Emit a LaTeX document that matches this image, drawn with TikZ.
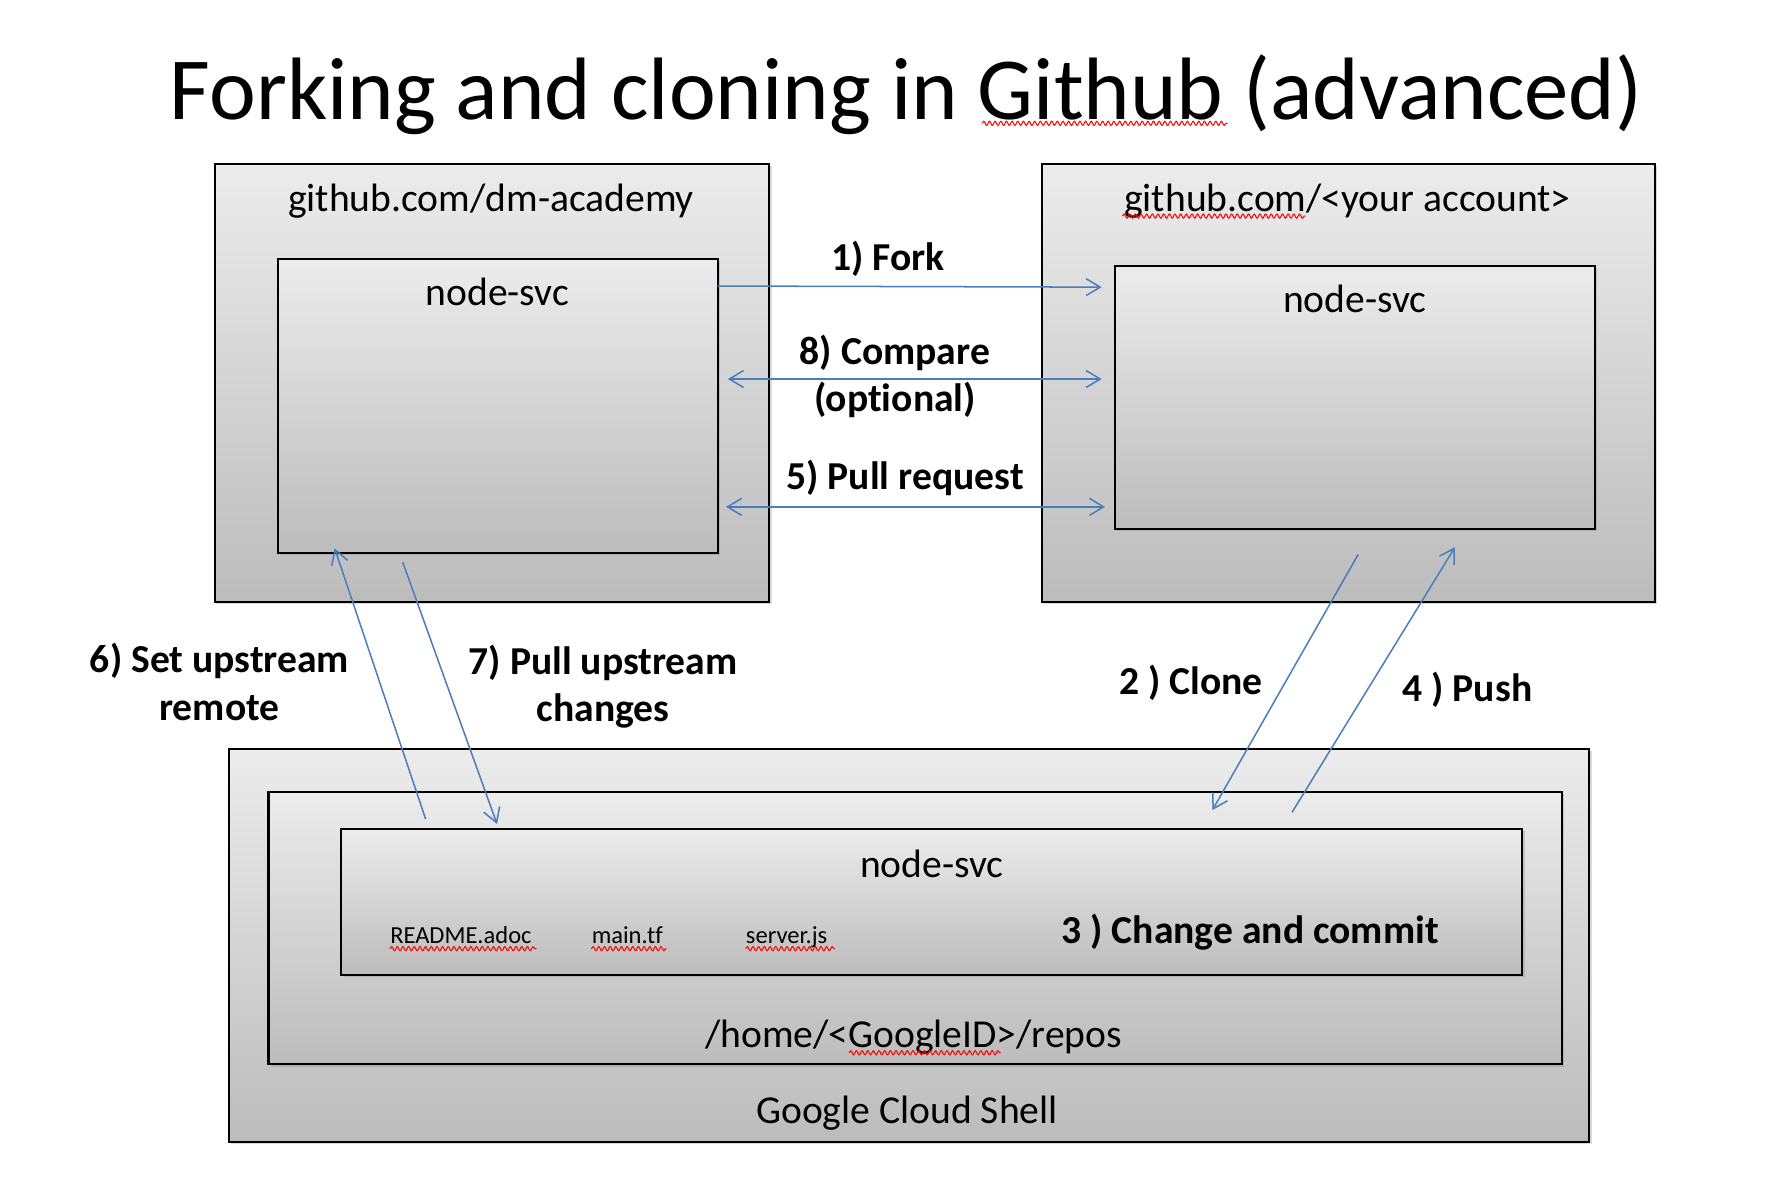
\documentclass[tikz,border=0pt]{standalone}
\usepackage{fontspec}
\setmainfont{Carlito}[Ligatures=NoCommon]
\usetikzlibrary{arrows.meta,shadows,fit,decorations.pathmorphing}
\definecolor{boxtop}{RGB}{236,236,236}
\definecolor{boxbot}{RGB}{188,188,188}
\definecolor{arrblue}{RGB}{74,126,187}
\begin{document}
\begin{tikzpicture}[x=0.6pt,y=-0.6pt,
  box/.style={draw=black, line width=1.1pt, top color=boxtop, bottom color=boxbot, inner sep=0pt,
    drop shadow={shadow xshift=1.2pt, shadow yshift=-1.2pt, opacity=0.3}},
  lbl/.style={font=\fontsize{21}{25}\selectfont, anchor=base, inner sep=0pt},
  blbl/.style={font=\fontsize{21}{25}\selectfont\bfseries, anchor=base, inner sep=0pt},
  small/.style={font=\fontsize{13}{15}\selectfont, anchor=base west, inner sep=0pt},
  flow/.style={draw=arrblue, line width=0.8pt, -{Straight Barb[length=7.5pt,width=9pt]}},
  flowtwo/.style={draw=arrblue, line width=0.8pt, {Straight Barb[length=7.5pt,width=9pt]}-{Straight Barb[length=7.5pt,width=9pt]}},
  squig/.style={draw=red, line width=0.55pt, decorate, decoration={snake, amplitude=1.1pt, segment length=3pt}}
]
\useasboundingbox (0,0) rectangle (1568,1047);

% title
\node[font=\fontsize{47}{56}\selectfont, anchor=base, inner sep=0pt] (title) at (801,106) {Forking and cloning in Github (advanced)};

% boxes
\node[box, fit={(190,145) (680,531.8)}] (gha) {};
\node[box, fit={(245.5,228.6) (634.8,488.5)}] (ghan) {};
\node[box, fit={(920.8,145) (1462.8,531.8)}] (ghb) {};
\node[box, fit={(985.5,234.8) (1409.7,467.6)}] (ghbn) {};
\node[box, fit={(202,662) (1404.7,1009)}] (gcs) {};
\node[box, fit={(237.3,699.7) (1380.4,940.7)}] (home) {};
\node[box, fit={(301.8,732.7) (1345.6,861.8)}] (local) {};

% box labels
\node[lbl] (ghaL) at (434,187) {github.com/dm-academy};
\node[lbl] (ghanL) at (439.5,270) {node-svc};
\node[lbl] (ghbL) at (1191,187) {github.com/<your account>};
\node[lbl] (ghbnL) at (1197.5,276) {node-svc};
\node[lbl] (localL) at (823.5,775.5) {node-svc};
\node[small] (f1) at (344.6,833.5) {README.adoc};
\node[small] (f2) at (522.7,833.5) {main.tf};
\node[small] (f3) at (659,833.5) {server.js};
\node[blbl, anchor=base west] (commit) at (938,833.5) {3 ) Change and commit};
\node[lbl, anchor=base west] (homeL) at (622.9,926) {/home/<GoogleID>/repos};
\node[lbl, anchor=base west] (gcsL) at (668,993) {Google Cloud Shell};

% arrow labels
\node[blbl] (forkL) at (785,239) {1) Fork};
\node[blbl] (cmpL) at (791,322.5) {8) Compare};
\node[blbl] (cmpLb) at (791,364) {(optional)};
\node[blbl] (prL) at (800,433) {5) Pull request};
\node[blbl] (upL) at (194,594) {6) Set upstream};
\node[blbl] (upLb) at (194,637) {remote};
\node[blbl] (puL) at (533,596) {7) Pull upstream};
\node[blbl] (puLb) at (533,638) {changes};
\node[blbl] (clL) at (1052.5,614) {2 ) Clone};
\node[blbl] (pushL) at (1297,620) {4 ) Push};

% connector end points
\coordinate (forkS) at (634.8,252.8);
\coordinate (forkE) at (973.7,253.8);
\coordinate (cmpW) at (643.4,335);
\coordinate (cmpE) at (973.7,335);
\coordinate (prW) at (641.7,448);
\coordinate (prE) at (976.7,448);
\coordinate (upS) at (376.2,723.9);
\coordinate (upE) at (295.8,484.6);
\coordinate (puS) at (356,497);
\coordinate (puE) at (439.3,728.3);
\coordinate (clS) at (1200.5,490);
\coordinate (clE) at (1071.6,716);
\coordinate (pushS) at (1142,718);
\coordinate (pushE) at (1286,483.7);

% connectors
\draw[flow] (forkS) -- (forkE);
\draw[flowtwo] (cmpW) -- (cmpE);
\draw[flowtwo] (prW) -- (prE);
\draw[flow] (upS) -- (upE);
\draw[flow] (puS) -- (puE);
\draw[flow] (clS) -- (clE);
\draw[flow] (pushS) -- (pushE);

% spell-check squiggles
\draw[squig] (868,109) -- (1085,109);
\draw[squig] (992,191) -- (1154,191);
\draw[squig] (344.6,838.5) -- (474,838.5);
\draw[squig] (522.7,838.5) -- (589,838.5);
\draw[squig] (659,838.5) -- (737.9,838.5);
\draw[squig] (750.4,930.5) -- (884.4,930.5);
\end{tikzpicture}
\end{document}
